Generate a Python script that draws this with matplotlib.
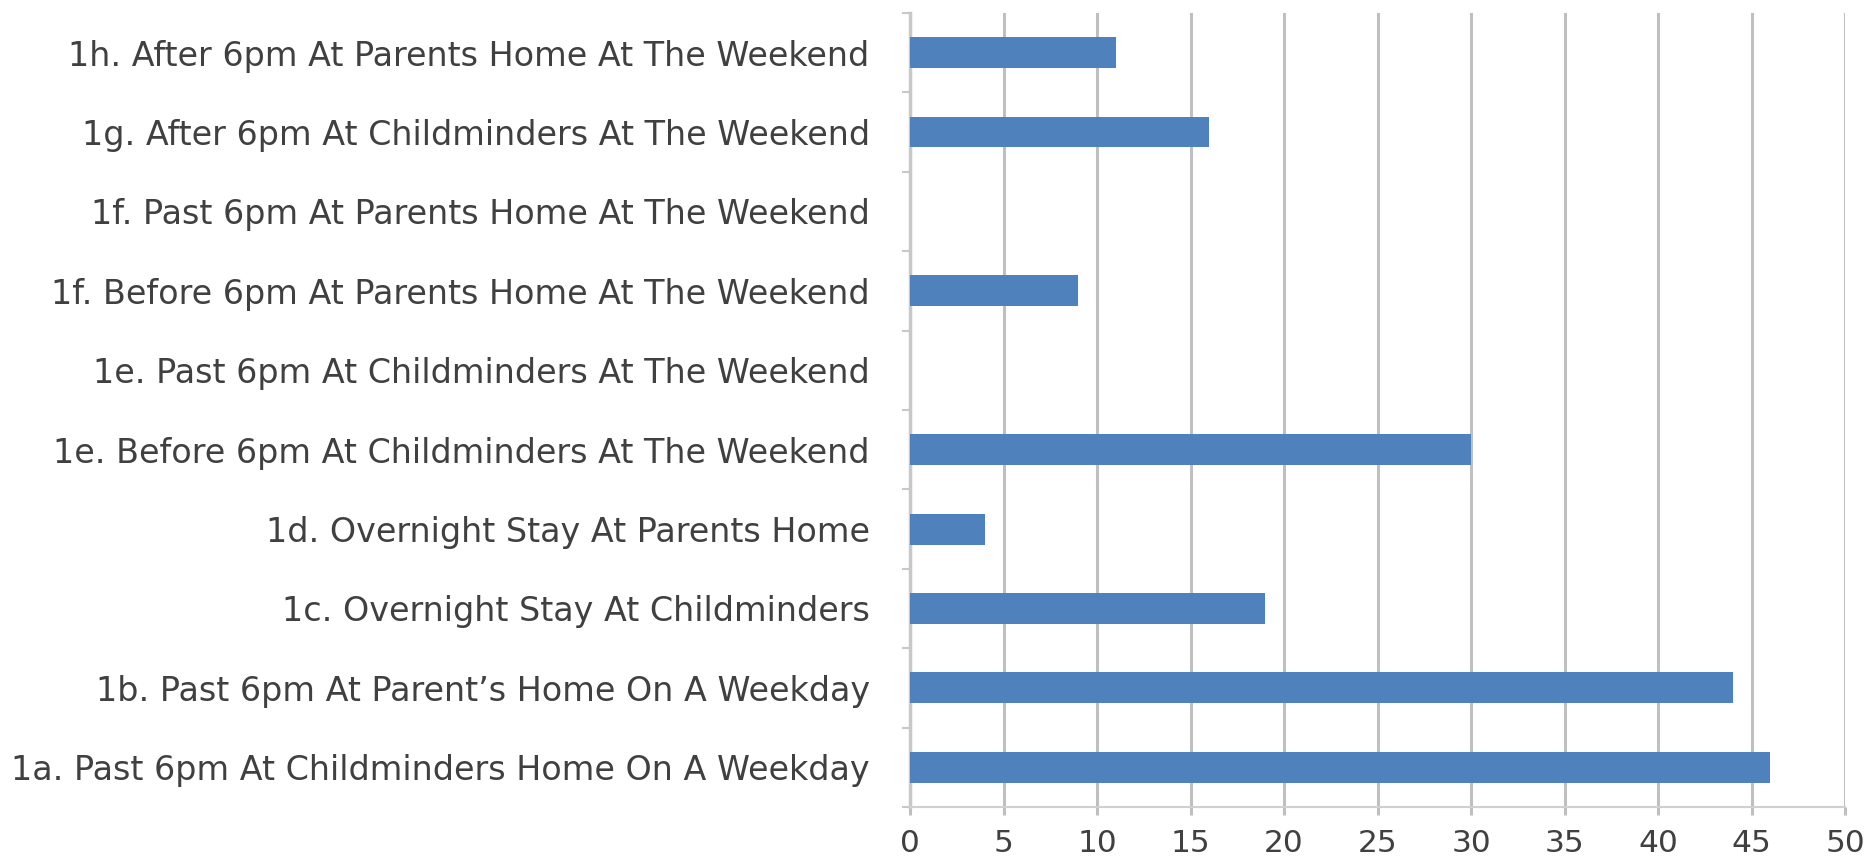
import numpy as np
import matplotlib.pyplot as plt
from matplotlib.ticker import FixedLocator

## data (bottom to top)
labels = [
    "1a. Past 6pm At Childminders Home On A Weekday",
    "1b. Past 6pm At Parent\u2019s Home On A Weekday",
    "1c. Overnight Stay At Childminders",
    "1d. Overnight Stay At Parents Home",
    "1e. Before 6pm At Childminders At The Weekend",
    "1e. Past 6pm At Childminders At The Weekend",
    "1f. Before 6pm At Parents Home At The Weekend",
    "1f. Past 6pm At Parents Home At The Weekend",
    "1g. After 6pm At Childminders At The Weekend",
    "1h. After 6pm At Parents Home At The Weekend",
]
values = [46, 44, 19, 4, 30, 0, 9, 0, 16, 11]
xticks = [0, 5, 10, 15, 20, 25, 30, 35, 40, 45, 50]

bar_col  = '#4F81BD'
grid_col = '#BFBFBF'
txt_col  = '#404040'

plt.rcParams['font.family'] = ['DejaVu Sans']

fig = plt.figure(figsize=(18.69, 8.58), dpi=100)
ax = fig.add_axes([0.4869, 0.0594, 0.5003, 0.9256])

y = np.arange(len(labels))
ax.barh(y, values, height=0.39, color=bar_col, edgecolor='none', zorder=3)

ax.set_xlim(0, 50)
ax.set_ylim(-0.5, len(labels) - 0.5)
ax.set_xticks(xticks)
ax.set_yticks(y)
ax.set_yticklabels(labels)
ax.yaxis.set_minor_locator(FixedLocator(np.arange(-0.5, len(labels), 1.0)))

ax.grid(axis='x', color=grid_col, linewidth=2.2, zorder=0)
ax.tick_params(axis='y', which='major', length=0, pad=29, labelsize=24, labelcolor=txt_col)
ax.tick_params(axis='y', which='minor', length=6, width=1.5, color='#C8C8C8')
ax.tick_params(axis='x', length=6, width=2.2, color=grid_col, pad=10, labelsize=22.5, labelcolor=txt_col)

for s in ['top', 'right']:
    ax.spines[s].set_visible(False)
ax.spines['left'].set_color('#C8C8C8')
ax.spines['left'].set_linewidth(2.5)
ax.spines['bottom'].set_color('#D0D0D0')
ax.spines['bottom'].set_linewidth(1.5)

fig.savefig('out.png', dpi=100)
